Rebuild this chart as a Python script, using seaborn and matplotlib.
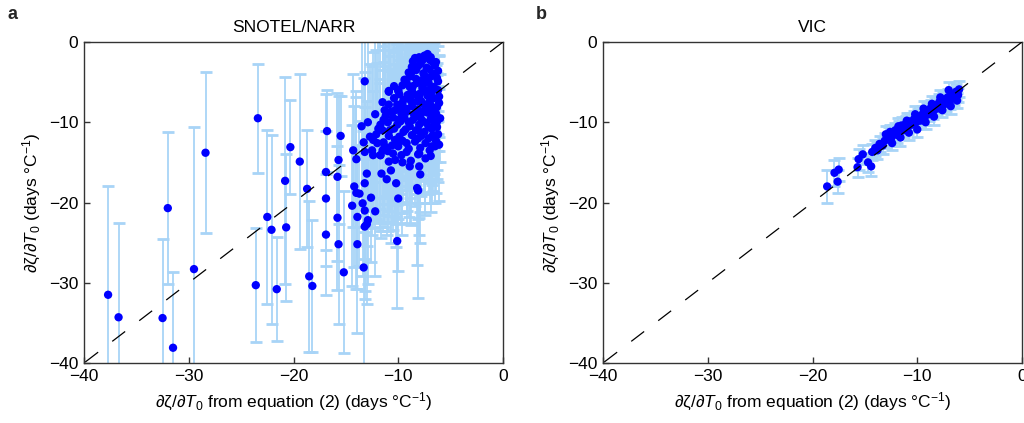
import numpy as np
import pandas as pd
import matplotlib
matplotlib.use("Agg")
import matplotlib.pyplot as plt
import seaborn as sns

# ---------------- data: panel a (SNOTEL/NARR) ----------------
a_x = [-37.7, -36.7, -32.5, -32.0, -31.5, -29.5, -28.4, -23.4, -23.6, -22.5,
       -22.1, -21.6, -20.8, -20.7, -20.3, -19.4, -18.7, -18.5, -18.2, -16.9,
       -16.9, -16.9, -16.8, -15.8, -15.8, -15.7, -15.7, -15.5, -15.2, -13.2,
       -13.3, -10.1, -8.2, -8.1,
       -13.5, -12.7, -13.3, -14.3, -13.2, -12.4, -11.7, -14.0, -10.9, -10.3,
       -8.9, -8.0, -7.0, -6.5, -8.1, -13.0, -11.6, -11.1, -13.2, -10.2,
       -14.2, -13.7, -12.6, -10.0, -14.4, -13.4, -12.2, -13.2, -13.9, -12.9,
       -13.2, -13.0, -13.9, -14.0,
       -8.4, -7.9, -7.0, -6.5, -8.7, -7.6, -6.5, -8.9, -9.2, -8.2,
       -7.1, -6.2, -10.0, -10.9, -8.7, -7.9, -6.8, -9.5, -8.2, -7.0,
       -6.3, -11.3, -10.3, -9.2, -7.8, -6.7, -11.4, -9.8, -8.6, -7.3,
       -6.3, -11.9, -10.8, -9.5, -8.1, -6.8, -12.4, -11.3, -10.3, -9.2,
       -7.9, -6.8, -11.7, -9.7, -10.9, -10.0,
       -7.5, -8.0, -6.8, -7.3, -8.3, -6.2, -9.0, -7.0, -7.8, -8.6,
       -6.6, -9.6, -7.4, -6.1, -8.0, -9.1, -10.4, -7.5, -8.7, -6.6,
       -9.8, -10.9, -7.2, -8.3, -6.0, -9.4, -10.5, -7.7, -6.6, -8.9,
       -10.1, -11.0, -7.5, -6.2, -8.7, -9.9, -11.5, -7.1, -8.4, -10.6,
       -6.4, -9.0, -11.0, -10.0, -7.4, -12.0, -8.8,
       -7.2, -6.9, -8.6, -7.7, -6.4, -8.1, -7.0, -6.7, -8.8, -7.5,
       -8.3, -6.3, -9.4, -7.3, -8.9, -7.7, -6.9, -6.2, -9.9, -8.5,
       -7.2, -6.6, -9.6, -8.8, -7.8, -6.9, -6.1, -10.1, -9.3, -8.1,
       -7.4, -6.4, -10.7, -9.7, -8.5, -7.9, -6.9, -11.2, -10.0, -9.0,
       -8.0, -7.1, -6.3, -11.7, -10.4, -9.3, -8.3, -7.8, -6.7, -12.1,
       -10.9, -9.6, -8.1, -7.4, -6.1, -11.4, -10.2, -9.2, -8.0, -6.9,
       -11.5, -10.5, -9.6, -7.9, -10.7, -12.5, -12.9, -12.2, -11.5, -10.4]
a_y = [-31.5, -34.3, -34.4, -20.7, -38.1, -28.3, -13.8, -9.5, -30.3, -21.8,
       -23.4, -30.8, -17.3, -23.1, -13.1, -14.9, -18.3, -29.2, -30.4, -16.2,
       -19.5, -24.0, -11.1, -16.8, -21.9, -25.2, -14.7, -11.7, -28.7, -4.9,
       -28.1, -24.8, -18.2, -18.5,
       -10.5, -11.8, -12.5, -13.5, -13.7, -14.1, -14.1, -14.6, -14.9, -14.7,
       -15.5, -15.5, -13.5, -13.0, -14.0, -16.4, -16.4, -17.1, -17.6, -17.6,
       -18.0, -18.9, -19.4, -19.5, -20.4, -20.1, -21.1, -21.0, -21.8, -22.2,
       -23.0, -22.7, -25.2, -18.8,
       -2.0, -2.7, -2.2, -2.9, -3.1, -3.9, -4.1, -4.3, -5.1, -5.1,
       -5.1, -4.9, -6.0, -6.2, -6.0, -6.4, -6.2, -7.2, -7.4, -7.4,
       -8.1, -8.5, -8.5, -8.7, -8.9, -9.1, -9.7, -9.9, -9.7, -10.1,
       -9.9, -10.8, -11.0, -11.2, -11.0, -10.8, -12.2, -13.0, -12.2, -12.6,
       -13.2, -13.0, -14.1, -14.1, -6.1, -6.1,
       -1.7, -1.9, -2.4, -3.2, -3.5, -3.6, -3.8, -4.4, -4.8, -5.5,
       -5.6, -5.4, -6.0, -6.8, -6.9, -6.6, -7.0, -7.8, -8.0, -8.4,
       -8.2, -7.8, -8.8, -9.3, -9.5, -9.5, -9.4, -9.8, -10.4, -10.5,
       -10.3, -10.0, -11.2, -11.5, -11.6, -11.8, -11.0, -12.0, -12.4, -12.9,
       -12.3, -13.3, -13.6, -13.0, -14.5, -12.6, -14.8,
       -1.5, -1.9, -2.4, -2.3, -2.5, -3.0, -3.4, -4.0, -4.0, -4.2,
       -4.6, -4.5, -4.7, -5.0, -5.6, -5.7, -5.9, -6.0, -6.5, -6.5,
       -6.7, -7.0, -7.6, -7.3, -7.4, -7.9, -7.6, -7.8, -8.3, -8.4,
       -8.5, -8.9, -8.7, -8.9, -9.0, -9.4, -9.6, -9.2, -9.7, -10.0,
       -10.3, -10.6, -10.6, -10.3, -10.8, -10.9, -11.0, -11.7, -11.6, -11.5,
       -11.7, -12.3, -12.0, -12.6, -12.8, -12.5, -12.3, -13.7, -13.9, -14.2,
       -13.5, -13.9, -15.0, -16.5, -16.0, -13.5, -10.0, -9.0, -7.5, -5.5]
a_err = [13.6, 11.7, 9.8, 9.5, 9.4, 17.7, 10.0, 6.8, 7.1, 10.8,
         11.8, 6.5, 12.9, 9.2, 5.9, 10.9, 7.3, 9.4, 8.2, 9.7,
         8.4, 7.5, 5.1, 10.5, 9.0, 9.9, 8.0, 5.0, 10.1, 8.0,
         13.5, 8.3, 9.6, 13.4,
         11.0, 9.0, 8.0, 9.5, 10.0, 8.0, 9.0, 8.5, 7.5, 8.0,
         7.0, 8.5, 6.5, 7.0, 8.0, 9.0, 8.0, 7.0, 9.5, 8.0,
         10.0, 9.0, 8.0, 9.0, 10.0, 9.0, 8.0, 10.0, 9.0, 8.0,
         9.0, 10.0, 11.0, 12.0,
         6.0, 5.0, 6.5, 5.5, 7.0, 6.0, 5.5, 7.5, 8.0, 6.5,
         6.0, 5.0, 9.0, 10.0, 7.0, 6.5, 5.5, 8.5, 7.0, 6.0,
         5.5, 11.0, 9.5, 8.0, 7.0, 6.0, 10.5, 9.0, 8.0, 7.0,
         6.0, 11.5, 10.0, 9.0, 8.0, 7.0, 11.0, 10.0, 9.5, 8.5,
         8.0, 7.0, 9.5, 8.5, 8.0, 9.0,
         5.0, 6.0, 5.5, 6.5, 7.0, 5.0, 8.0, 6.0, 7.0, 8.0,
         5.5, 9.0, 7.0, 5.0, 7.5, 8.5, 10.0, 7.0, 8.0, 6.0,
         9.0, 10.5, 7.0, 8.5, 5.5, 9.0, 10.0, 7.5, 6.0, 9.0,
         10.0, 11.0, 7.5, 6.0, 8.5, 9.5, 10.5, 7.0, 8.0, 9.5,
         6.5, 8.5, 10.0, 9.0, 7.0, 10.0, 8.0,
         5.0, 5.5, 6.5, 6.0, 5.0, 6.5, 6.0, 5.5, 7.0, 6.5,
         7.0, 5.5, 8.0, 6.5, 7.5, 7.0, 6.0, 5.5, 8.5, 7.5,
         6.5, 6.0, 8.5, 8.0, 7.0, 6.5, 6.0, 9.0, 8.5, 7.5,
         7.0, 6.0, 9.5, 9.0, 8.0, 7.5, 7.0, 10.0, 9.0, 8.5,
         8.0, 7.0, 6.5, 10.5, 9.5, 9.0, 8.0, 7.5, 7.0, 10.5,
         10.0, 9.0, 8.0, 7.5, 7.0, 10.0, 9.5, 9.0, 8.0, 7.0,
         10.0, 9.5, 9.0, 8.5, 9.0, 10.5, 11.0, 10.5, 10.0, 9.0]

# ---------------- data: panel b (VIC) ----------------
b_x = [-18.6, -17.9, -17.5, -17.6, -15.7, -15.6, -15.2, -14.7, -14.4,
       -14.3, -14.0, -13.8, -13.6, -13.3, -13.1, -13.0, -12.7, -12.5, -12.3,
       -12.1, -11.9, -11.7, -11.5, -11.3, -11.1, -10.9, -10.7, -10.5, -10.3,
       -10.1, -9.9, -9.7, -9.5, -9.3, -9.1, -8.9, -8.7, -8.5, -8.3,
       -8.1, -7.9, -7.7, -7.5, -7.3, -7.1, -6.9, -6.7, -6.5, -6.3,
       -6.1, -6.0, -6.2, -6.8, -7.6, -8.4, -9.2, -10.0, -10.8, -11.6,
       -12.4, -7.0, -7.8, -8.6, -9.4, -10.2, -11.0, -11.8, -12.6]
b_y = [-18.0, -16.3, -15.9, -17.4, -15.6, -14.6, -14.0, -15.0, -15.5,
       -13.7, -13.2, -13.5, -12.7, -12.9, -12.3, -11.5, -11.6, -12.0, -11.3,
       -11.0, -11.6, -10.8, -10.4, -11.0, -10.2, -10.6, -9.9, -10.3, -9.6,
       -10.0, -9.3, -9.8, -9.0, -9.4, -8.6, -9.0, -8.2, -8.7, -7.9,
       -8.3, -7.5, -8.0, -7.2, -7.7, -6.9, -7.4, -6.6, -7.0, -6.2,
       -6.6, -5.9, -7.3, -8.0, -8.5, -9.3, -10.0, -10.9, -11.3, -11.9,
       -12.6, -6.0, -6.9, -7.7, -8.3, -9.0, -9.8, -10.5, -11.2]
b_err = [2.0, 1.6, 1.4, 1.4, 1.2, 1.3, 1.2, 1.2, 1.2,
         1.0, 1.0, 1.1, 1.0, 1.0, 0.9, 1.0, 1.0, 0.9, 1.0,
         0.9, 1.0, 0.9, 1.0, 0.9, 1.0, 0.9, 1.0, 0.9, 1.0,
         0.9, 1.0, 0.9, 1.0, 0.9, 1.0, 0.9, 1.0, 0.9, 1.0,
         0.9, 1.0, 0.9, 1.0, 0.9, 1.0, 0.9, 1.0, 0.9, 1.0,
         0.9, 1.0, 0.9, 1.0, 0.9, 1.0, 0.9, 1.0, 0.9, 1.0,
         0.9, 1.0, 0.9, 1.0, 0.9, 1.0, 0.9, 1.0, 0.9]

ticks = [-40, -30, -20, -10, 0]
tick_labels = ["\u221240", "\u221230", "\u221220", "\u221210", "0"]
titles = ["SNOTEL/NARR", "VIC"]
letters = ["a", "b"]

# ---------------- style ----------------
sns.set_theme(style="white")
plt.rcParams["font.family"] = ["Liberation Sans", "DejaVu Sans"]
plt.rcParams["mathtext.fontset"] = "custom"
plt.rcParams["mathtext.rm"] = "Liberation Sans"
plt.rcParams["mathtext.it"] = "Liberation Sans:italic"

PT_COLOR = "#0000ff"
ERR_COLOR = "#a8d4f7"
FS = 12.5

fig = plt.figure(figsize=(10.24, 4.23), dpi=100)
ax_a = fig.add_axes([84 / 1024, 1 - 363 / 423, 419 / 1024, 321 / 423])
ax_b = fig.add_axes([603 / 1024, 1 - 363 / 423, 419 / 1024, 321 / 423])

ylab = r"$\mathrm{\partial\zeta/\partial}T_0$ (days °C$^{-1}$)"
xlab = r"$\mathrm{\partial\zeta/\partial}T_0$ from equation (2) (days °C$^{-1}$)"

for ax, xs, ys, es, title in [
    (ax_a, a_x, a_y, a_err, titles[0]),
    (ax_b, b_x, b_y, b_err, titles[1]),
]:
    df = pd.DataFrame({"x": xs, "y": ys, "err": es})
    ax.errorbar(df["x"], df["y"], yerr=df["err"], fmt="none", ecolor=ERR_COLOR,
                elinewidth=1.3, capsize=4.5, capthick=2.0, zorder=1)
    sns.scatterplot(data=df, x="x", y="y", ax=ax, color=PT_COLOR, s=36,
                    edgecolor="none", linewidth=0, zorder=3, legend=False)
    ax.plot([0, -40], [0, -40], color="black", lw=0.9,
            linestyle=(0, (13, 14.2)), zorder=4)
    ax.set_xlim(-40, 0)
    ax.set_ylim(-40, 0)
    ax.set_xticks(ticks)
    ax.set_xticklabels(tick_labels)
    ax.set_yticks(ticks)
    ax.set_yticklabels(tick_labels)
    ax.tick_params(direction="in", length=4, width=1, color="#333333",
                   labelsize=FS, bottom=True, left=True, top=False, right=False,
                   pad=4, labelcolor="black")
    for sp in ax.spines.values():
        sp.set_color("#333333")
        sp.set_linewidth(1.0)
        sp.set_visible(True)
    ax.set_xlabel(xlab, fontsize=FS, color="black", labelpad=5)
    ax.set_ylabel(ylab, fontsize=FS, color="black", labelpad=4)
    ax.set_title(title, fontsize=FS, color="black", pad=7)
    ax.set_facecolor("white")

fig.text(8 / 1024, 1 - 19 / 423, letters[0], fontsize=13, fontweight="bold")
fig.text(536 / 1024, 1 - 19 / 423, letters[1], fontsize=13, fontweight="bold")

fig.savefig("out.png", dpi=100, facecolor="white")
